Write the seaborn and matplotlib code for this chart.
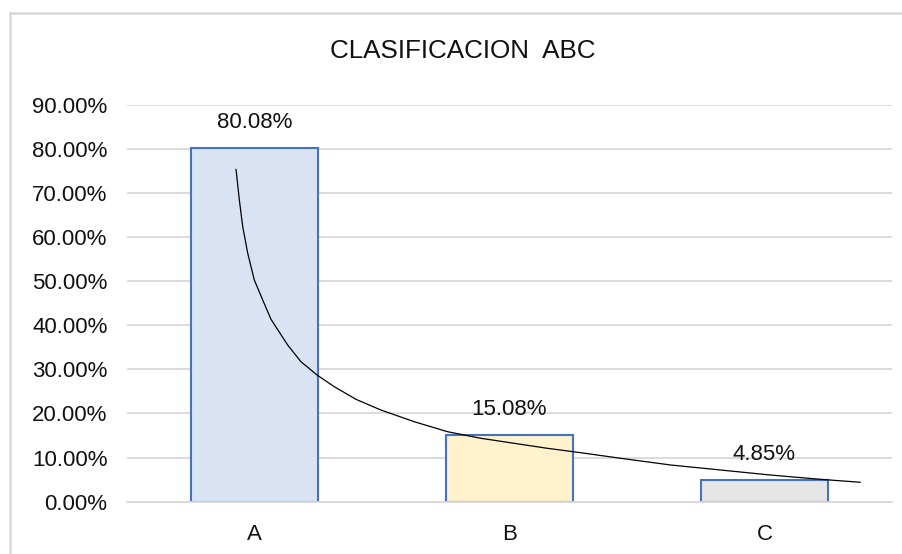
import matplotlib
matplotlib.use("Agg")
import matplotlib.pyplot as plt
import seaborn as sns
import pandas as pd
from matplotlib.lines import Line2D

categories = ["A", "B", "C"]
values = [80.08, 15.08, 4.85]
labels = ["80.08%", "15.08%", "4.85%"]
bar_colors = ["#DAE3F3", "#FFF2CC", "#E6E6E6"]
y_ticks = [0, 10, 20, 30, 40, 50, 60, 70, 80, 90]

# trend curve (x in category positions, y in %)
curve_x = [-0.0725, -0.0595, -0.0462, -0.0266, -0.0008, 0.0321, 0.0646, 0.130,
           0.182, 0.245, 0.3126, 0.3976, 0.4955, 0.626, 0.757, 0.887, 1.018,
           1.148, 1.279, 1.436, 1.632, 1.827, 2.023, 2.219, 2.376]
curve_y = [75.37, 68.41, 62.36, 56.33, 50.27, 45.74, 41.36, 35.53, 31.75,
           28.73, 26.08, 23.22, 20.79, 18.14, 15.87, 14.38, 13.24, 12.11,
           11.11, 9.84, 8.32, 7.19, 6.05, 5.08, 4.40]

sns.set_theme(style="white")
plt.rcParams["font.family"] = ["Liberation Sans", "DejaVu Sans"]

fig = plt.figure(figsize=(9.03, 5.54), dpi=100)
ax = fig.add_axes([127 / 903, 1 - 501.7 / 554, (892 - 127) / 903, (501.7 - 104.7) / 554])

df = pd.DataFrame({"cat": categories, "val": values})
sns.barplot(data=df, x="cat", y="val", hue="cat", palette=bar_colors,
            saturation=1, width=0.5, edgecolor="#4472C4", linewidth=1.5,
            legend=False, ax=ax, zorder=2)

curve_df = pd.DataFrame({"x": curve_x, "y": curve_y})
sns.lineplot(data=curve_df, x="x", y="y", color="black", linewidth=0.9,
             ax=ax, zorder=3, sort=False)

txt = "#111111"
for i, (v, t) in enumerate(zip(values, labels)):
    ax.annotate(t, (i, v), xytext=(0, 11), textcoords="offset points",
                ha="center", va="bottom", fontsize=16, color=txt)

ax.set_xlim(-0.5, 2.5)
ax.set_ylim(0, 90)
ax.set_yticks(y_ticks)
ax.set_yticklabels([f"{t:.2f}%" for t in y_ticks])
ax.yaxis.grid(True, color="#D9D9D9", linewidth=1.3, zorder=0)
ax.set_axisbelow(True)
for s in ["top", "right", "left"]:
    ax.spines[s].set_visible(False)
ax.spines["bottom"].set_color("#D9D9D9")
ax.spines["bottom"].set_linewidth(1.3)
ax.tick_params(axis="y", length=0, pad=14, labelsize=16, labelcolor=txt)
ax.tick_params(axis="x", length=0, pad=16, labelsize=16, labelcolor=txt)
ax.set_xlabel("")
ax.set_ylabel("")

fig.text(463 / 903, 1 - 58.3 / 554, "CLASIFICACION  ABC", ha="center",
         va="baseline", fontsize=18.7, color=txt)

# chart frame
fig.add_artist(Line2D([10.5 / 903, 10.5 / 903], [0, 1 - 13 / 554],
                      transform=fig.transFigure, color="#D9D9D9", linewidth=1.8))
fig.add_artist(Line2D([10.5 / 903, 1], [1 - 13 / 554, 1 - 13 / 554],
                      transform=fig.transFigure, color="#D9D9D9", linewidth=1.8))

fig.savefig("out.png", dpi=100)
